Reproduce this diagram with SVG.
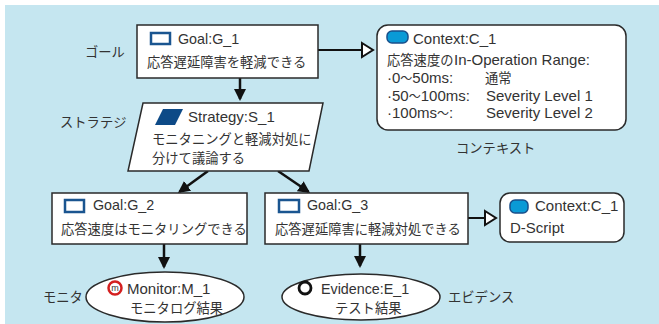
<svg xmlns="http://www.w3.org/2000/svg" width="659" height="324" viewBox="0 0 659 324">
<defs>
<style>
.t{font-family:"Liberation Sans","Noto Sans CJK JP",sans-serif;font-size:15px;fill:#333}
.g{font-size:14.3px}
.j{font-family:"Noto Sans CJK JP","Liberation Sans",sans-serif;font-size:13.3px;fill:#333}
.w{font-family:"Noto Sans CJK JP","Liberation Sans",sans-serif;font-size:12px}
.box{fill:#fff;stroke:#2a2a2a;stroke-width:1.5}
.gi{fill:#fff;stroke:#1a5590;stroke-width:2.5}
.ci{fill:#0a9ad6;stroke:#1a4f8a;stroke-width:1.5}
.arr{stroke:#111;stroke-width:2.5;fill:none;marker-end:url(#ah)}
.ctx{stroke:#111;stroke-width:2;fill:none;marker-end:url(#oh)}
</style>
<marker id="ah" viewBox="0 0 12 12" refX="10" refY="6" markerWidth="12" markerHeight="12" markerUnits="userSpaceOnUse" orient="auto"><path d="M0,0 L12,6 L0,12 z" fill="#111"/></marker>
<marker id="oh" viewBox="-2 -2 15 18" refX="0" refY="7" markerWidth="15" markerHeight="18" markerUnits="userSpaceOnUse" orient="auto"><path d="M0,0 L11,7 L0,14 z" fill="#fff" stroke="#111" stroke-width="2"/></marker>
</defs>
<rect x="5" y="5" width="654" height="319" fill="#c5e6f0"/>

<g id="labels">
<text class="j" x="85" y="57">ゴール</text>
<text class="j" x="60" y="127">ストラテジ</text>
<text class="j" x="456" y="153">コンテキスト</text>
<text class="j" x="43" y="302">モニタ</text>
<text class="j" x="448" y="302">エビデンス</text>
</g>

<g id="connectors">
<path class="arr" d="M240,78 L240,99"/>
<path class="ctx" d="M318,50 L362,50"/>
<path class="arr" d="M208,171 L179.5,191.8"/>
<path class="arr" d="M278,171 L308.5,191.8"/>
<path class="ctx" d="M468,218 L485,218"/>
<path class="arr" d="M164,244 L164,267"/>
<path class="arr" d="M360,244 L360,266"/>
</g>

<g id="G_1">
<rect class="box" x="137" y="25" width="181" height="53"/>
<rect class="gi" x="151" y="33" width="19" height="11"/>
<text class="t g" x="178" y="44">Goal:G_1</text>
<text class="j" x="147" y="67">応答遅延障害を軽減できる</text>
</g>

<g id="C_1">
<rect class="box" x="377" y="25" width="249" height="105" rx="11"/>
<rect class="ci" x="387" y="31" width="21" height="12" rx="5"/>
<text class="t" x="413" y="44">Context:C_1</text>
<text class="j" x="387" y="65">応答速度の</text>
<text class="t" x="454" y="65">In-Operation Range:</text>
<text class="t" x="387" y="83">·0<tspan class="w">〜</tspan>50ms:</text>
<text class="j" x="485" y="83">通常</text>
<text class="t" x="387" y="100.5">·50<tspan class="w">〜</tspan>100ms:</text>
<text class="t" x="486" y="100.5">Severity Level 1</text>
<text class="t" x="387" y="118">·100ms<tspan class="w">〜</tspan>:</text>
<text class="t" x="486" y="118">Severity Level 2</text>
</g>

<g id="S_1">
<polygon class="box" points="143,103 323,103 309,171 128,171"/>
<polygon points="163,109 183,109 175,125 155,125" fill="#0d4a87"/>
<text class="t" x="188" y="122">Strategy:S_1</text>
<text class="j" x="152" y="144">モニタニングと軽減対処に</text>
<text class="j" x="152" y="163">分けて議論する</text>
</g>

<g id="G_2">
<rect class="box" x="52" y="193" width="195" height="51"/>
<rect class="gi" x="65" y="200" width="19" height="12"/>
<text class="t g" x="93" y="210">Goal:G_2</text>
<text class="j" x="61" y="234">応答速度はモニタリングできる</text>
</g>

<g id="G_3">
<rect class="box" x="265" y="193" width="203" height="51"/>
<rect class="gi" x="279" y="200" width="20" height="12"/>
<text class="t g" x="307" y="210">Goal:G_3</text>
<text class="j" x="275" y="234">応答遅延障害に軽減対処できる</text>
</g>

<g id="C_1b">
<rect class="box" x="500" y="193" width="124" height="49" rx="10"/>
<rect class="ci" x="510" y="200" width="18" height="13" rx="5"/>
<text class="t" x="535" y="211">Context:C_1</text>
<text class="t" x="510" y="233">D-Script</text>
</g>

<g id="M_1">
<ellipse class="box" cx="165" cy="297" rx="79" ry="25"/>
<circle cx="115" cy="288" r="6.5" fill="#fff" stroke="#d42020" stroke-width="2.5"/>
<text x="115" y="291" text-anchor="middle" style="font-family:'Liberation Sans',sans-serif;font-size:9px;fill:#333">m</text>
<text class="t" x="127" y="294">Monitor:M_1</text>
<text class="j" x="130" y="313">モニタログ結果</text>
</g>

<g id="E_1">
<ellipse class="box" cx="361" cy="297" rx="79" ry="23"/>
<circle cx="305" cy="288" r="6" fill="#fff" stroke="#111" stroke-width="2.8"/>
<text class="t g" x="321" y="294">Evidence:E_1</text>
<text class="j" x="335" y="313">テスト結果</text>
</g>
</svg>
